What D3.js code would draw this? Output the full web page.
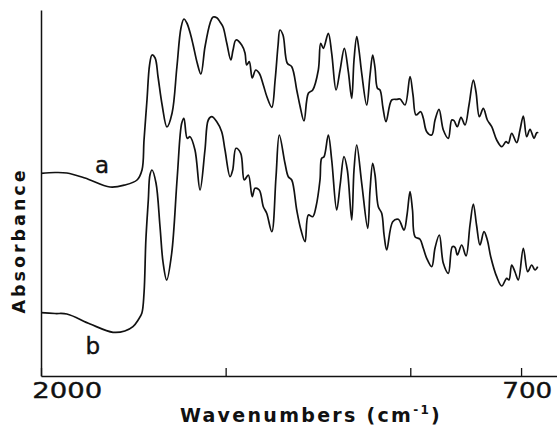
<!DOCTYPE html>
<html>
<head>
<meta charset="utf-8">
<script src="https://cdn.jsdelivr.net/npm/d3@7"></script>
<style>
  html, body { margin: 0; padding: 0; background: #fff; }
  svg { display: block; }
</style>
</head>
<body>
<div id="chart"></div>
<script>
// Wavenumbers (cm-1) and absorbance (arbitrary, offset) of spectrum a
const wavenumbersA = [2000,1962,1930,1881,1813,1773,1740,1726.5,1721,1713,1706,1699.4,1691,1683,1672,1659,1645,1632,1621,1613,1605,1594.6,1588,1577,1567,1556,1542,1534,1523,1515,1507,1497,1486,1480,1472,1456.5,1447.6,1443,1436,1428,1418.6,1409,1398,1388,1375,1366,1358,1353,1344.7,1333,1321,1307.5,1298.6,1287.8,1276,1264.2,1249,1242.6,1235.5,1222,1212.8,1201,1190,1178.6,1167.8,1158.6,1152.4,1145,1138.9,1131.5,1118,1109,1101.8,1095.5,1089,1082,1073.9,1065.7,1050.3,1036.8,1027.8,1014.3,1000.7,992.6,984.5,971.8,964.7,955.5,942,933,922.2,910.5,897,887.8,881.6,872.7,862.6,851.8,841,829.3,822,813,802.2,791.4,779.5,766,752.4,740.8,734.5,725.4,711.8,702.9,693.9,684.7,675.8,664.9,657.6,653.3];
const absorbanceA = [2.027,2.035,2.03,1.98,1.89,1.91,1.96,2.06,2.36,2.76,3.11,3.21,3.18,2.99,2.71,2.49,2.63,3.09,3.48,3.57,3.53,3.41,3.31,3.13,3.02,3.29,3.53,3.59,3.58,3.54,3.49,3.33,3.16,3.26,3.36,3.31,3.23,3.11,3.143,2.98,3.06,3.027,2.91,2.79,2.687,2.96,3.31,3.46,3.41,3.127,3.093,2.86,2.70,2.55,2.827,2.86,3.06,3.327,3.277,3.427,3.227,2.86,3.06,3.277,3.043,2.777,3.16,3.393,3.26,3.027,2.71,3.01,3.21,3.08,2.877,2.86,2.68,2.543,2.76,2.767,2.77,2.71,2.993,2.81,2.61,2.643,2.577,2.443,2.41,2.56,2.667,2.46,2.377,2.56,2.553,2.493,2.587,2.51,2.71,2.96,2.84,2.593,2.677,2.56,2.493,2.36,2.293,2.343,2.327,2.427,2.333,2.46,2.60,2.393,2.467,2.377,2.433,2.433];

// Spectrum b
const wavenumbersB = [2000,1962,1930,1867,1805,1773,1751,1737,1727,1721,1716,1709.4,1705,1699.4,1688.6,1677.7,1669.6,1659.6,1646,1631,1619,1613,1604,1596.5,1583,1569.4,1556,1547,1537.7,1524,1510.7,1501.7,1488,1480.9,1472,1459.2,1449.5,1438.6,1428,1420.5,1409,1398,1388.8,1375,1363.6,1354.7,1339.3,1330.3,1321,1307.5,1296,1285,1276,1264.2,1255.3,1244.5,1240,1233.6,1222,1212.8,1199.3,1190,1179.5,1170.5,1158.6,1152.4,1145,1131.5,1115.3,1109,1101.8,1095.5,1086.6,1077.4,1071,1063.8,1047.6,1032.4,1017,1008.9,1000.7,994,987.2,973.7,964.7,955.5,942,933,921.4,910.5,897,886.2,878.9,872.7,860.7,849,838.3,829.3,820.6,811.2,800.4,791.4,782.2,766,752.4,738.9,732.7,725.4,716.4,707.5,693.9,682,671.2,662.2,654.9];
const absorbanceB = [0.633,0.625,0.62,0.52,0.437,0.45,0.493,0.56,0.627,0.83,1.36,1.76,2.01,2.06,1.93,1.493,1.14,0.96,1.23,1.993,2.527,2.577,2.377,2.393,2.26,1.86,2.26,2.56,2.593,2.543,2.443,2.26,1.993,2.06,2.277,2.227,1.96,2.01,1.793,1.877,1.86,1.693,1.627,1.443,1.993,2.41,2.127,1.993,1.96,1.66,1.46,1.343,1.61,1.593,1.693,1.96,2.177,2.193,2.41,2.16,1.66,1.91,2.193,2.06,1.56,2.06,2.31,1.927,1.477,1.86,2.127,2.01,1.693,1.627,1.41,1.26,1.543,1.567,1.46,1.61,1.843,1.66,1.393,1.367,1.277,1.177,1.093,1.28,1.41,1.127,1.027,1.293,1.287,1.21,1.31,1.20,1.51,1.72,1.51,1.31,1.443,1.36,1.193,0.993,0.90,0.977,0.96,1.11,1.04,0.96,1.277,1.043,1.11,1.06,1.093];

const xTickValues = [2000, 1500, 1000, 700];
const xTickLabels = ["2000", "", "", "700"];
const seriesLabels = ["a", "b"];
const seriesLabelPos = [[1835, 2.03], [1860, 0.22]];

const W = 557, H = 431;
const svg = d3.select("#chart").append("svg").attr("width", W).attr("height", H);

const x = d3.scaleLinear().domain([2000, 600]).range([41, 558]);
const y = d3.scaleLinear().domain([0, 3.66]).range([376, 10]);

// x axis with inward ticks
const xAxis = d3.axisBottom(x)
  .tickValues(xTickValues)
  .tickSizeInner(-8).tickSizeOuter(0).tickPadding(6)
  .tickFormat((d, i) => xTickLabels[i]);
const gx = svg.append("g").attr("transform", `translate(0,${y(0)})`).call(xAxis);
gx.select(".domain").attr("stroke", "#111").attr("stroke-width", 1.3);
gx.selectAll(".tick line").attr("stroke", "#111").attr("stroke-width", 1.3);
const labelShift = {2000: 25.7, 700: 5.7};
const labelLen = {2000: 70, 700: 50};
gx.selectAll(".tick text")
  .attr("font-family", "DejaVu Sans, sans-serif")
  .attr("font-size", 22)
  .attr("fill", "#111")
  .attr("stroke", "#111").attr("stroke-width", 0.4)
  .attr("dy", 0)
  .attr("y", 22)
  .attr("dx", d => labelShift[d] || 0)
  .each(function(d) { if (labelLen[d]) d3.select(this).attr("textLength", labelLen[d]).attr("lengthAdjust", "spacingAndGlyphs"); });

// y axis: plain line
const yAxis = d3.axisLeft(y).ticks(0).tickSizeOuter(0);
const gy = svg.append("g").attr("transform", `translate(${x(2000)},0)`).call(yAxis);
gy.select(".domain").attr("stroke", "#111").attr("stroke-width", 1.5);

const line = d3.line().curve(d3.curveCatmullRom.alpha(0.5));

const ptsA = wavenumbersA.map((w, i) => [x(w), y(absorbanceA[i])]);
const ptsB = wavenumbersB.map((w, i) => [x(w), y(absorbanceB[i])]);

svg.append("path").attr("d", line(ptsA)).attr("fill", "none").attr("stroke", "#111").attr("stroke-width", 1.7).attr("stroke-linejoin", "round");
svg.append("path").attr("d", line(ptsB)).attr("fill", "none").attr("stroke", "#111").attr("stroke-width", 1.7).attr("stroke-linejoin", "round");

// series labels
svg.selectAll(".slabel").data(seriesLabels).enter().append("text")
  .attr("class", "slabel")
  .attr("x", (d, i) => x(seriesLabelPos[i][0]))
  .attr("y", (d, i) => y(seriesLabelPos[i][1]))
  .attr("text-anchor", "middle")
  .attr("font-family", "DejaVu Sans, sans-serif")
  .attr("font-size", 23)
  .attr("fill", "#111")
  .attr("stroke", "#111").attr("stroke-width", 0.4)
  .text(d => d);

// x title
const xt = svg.append("text")
  .attr("x", 311).attr("y", 422)
  .attr("text-anchor", "middle")
  .attr("font-family", "DejaVu Sans, sans-serif")
  .attr("font-weight", "bold")
  .attr("font-size", 19)
  .attr("letter-spacing", 2.3)
  .attr("fill", "#111");
xt.append("tspan").text("Wavenumbers (cm");
xt.append("tspan").attr("font-size", 12).attr("dy", -8).text("-1");
xt.append("tspan").attr("dy", 8).text(")");

// y title
svg.append("text")
  .attr("transform", "translate(25,240.5) rotate(-90)")
  .attr("text-anchor", "middle")
  .attr("font-family", "DejaVu Sans, sans-serif")
  .attr("font-weight", "bold")
  .attr("font-size", 17.5)
  .attr("letter-spacing", 3)
  .attr("fill", "#111")
  .text("Absorbance");
</script>
</body>
</html>
